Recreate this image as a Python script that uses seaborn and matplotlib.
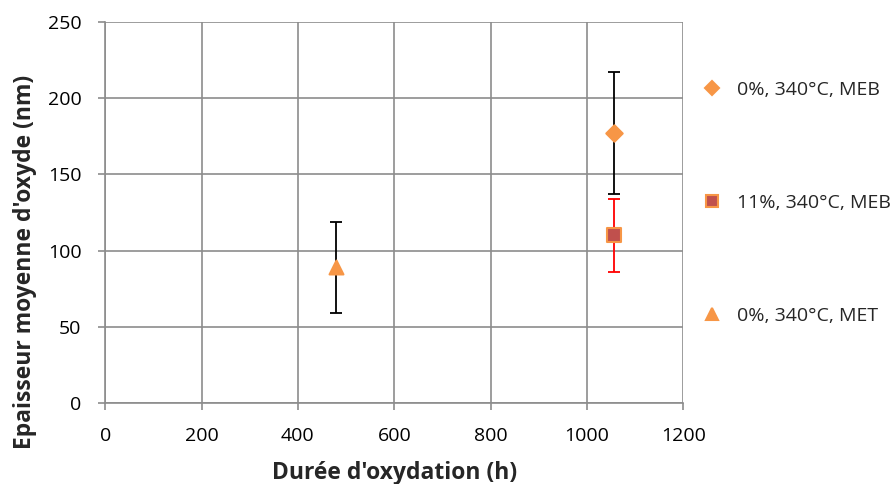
import matplotlib
matplotlib.use("Agg")
import matplotlib.pyplot as plt
import seaborn as sns

# Data
series = ["0%, 340°C, MEB", "11%, 340°C, MEB", "0%, 340°C, MET"]
duree = [1055, 1057, 480]
epaisseur = [177, 110, 89]
erreur = [40, 24, 30]
markers = ["D", "s", "^"]
face_colors = ["#F79646", "#C0504D", "#F79646"]
err_colors = ["black", "red", "black"]

sns.set_style("white")
plt.rcParams['font.family'] = ['Open Sans', 'DejaVu Sans']

fig = plt.figure(figsize=(8.91, 4.84), dpi=100)
ax = fig.add_axes([0.118, 0.167, 0.649, 0.788])

grid_col = "#8C8C8C"
handles = []
for i in range(len(series)):
    ax.errorbar(duree[i], epaisseur[i], yerr=erreur[i], fmt="none",
                ecolor=err_colors[i], elinewidth=1.3, capsize=4, capthick=1.3, zorder=2)
    size = 70 if markers[i] == "D" else 100
    sns.scatterplot(x=[duree[i]], y=[epaisseur[i]], marker=markers[i], s=size,
                    color=face_colors[i], edgecolor="#F79646", linewidth=1.5,
                    ax=ax, zorder=3, legend=False)
    h = plt.Line2D([], [], linestyle="none", marker=markers[i],
                   markerfacecolor=face_colors[i], markeredgecolor="#F79646",
                   markeredgewidth=1.5,
                   markersize=7 if markers[i] == "D" else 8.5, label=series[i])
    handles.append(h)

ax.set_xlim(0, 1200)
ax.set_ylim(0, 250)
ax.set_xticks(range(0, 1201, 200))
ax.set_yticks(range(0, 251, 50))
ax.grid(True, color=grid_col, linewidth=1.2)
ax.set_axisbelow(True)
for side in ["top", "right"]:
    ax.spines[side].set_visible(False)
for side in ["left", "bottom"]:
    ax.spines[side].set_color(grid_col)
    ax.spines[side].set_linewidth(1.2)
ax.tick_params(axis="both", labelsize=14, labelcolor="black", color=grid_col,
               bottom=True, left=True, direction="out", length=5, width=1.2, pad=12)

ax.set_xlabel("Durée d'oxydation (h)", fontsize=16.5, fontweight="bold", labelpad=12)
ax.set_ylabel("Epaisseur moyenne d'oxyde (nm)", fontsize=16.5, fontweight="bold")
ax.yaxis.set_label_coords(-0.118, 0.37)

fig.legend(handles=handles, loc="center left", bbox_to_anchor=(0.788, 0.581),
           frameon=False, fontsize=14, labelspacing=4.9, handletextpad=0.8,
           handlelength=1.0, borderpad=0, borderaxespad=0)

plt.savefig("out.png", dpi=100)
